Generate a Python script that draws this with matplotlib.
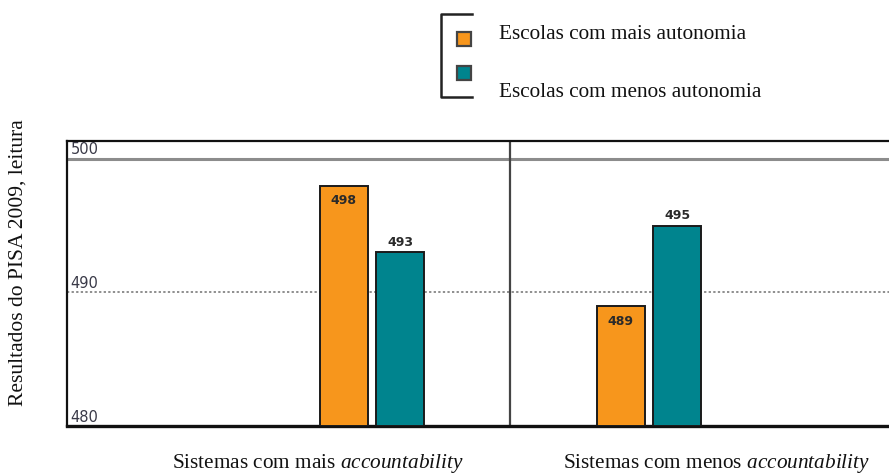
import matplotlib.pyplot as plt
from matplotlib.patches import Rectangle
from matplotlib.lines import Line2D

plt.rcParams['mathtext.fontset'] = 'custom'
plt.rcParams['mathtext.rm'] = 'Liberation Serif'
plt.rcParams['mathtext.it'] = 'Liberation Serif:italic'

# PISA 2009 reading scores by school autonomy and accountability
groups = ['Sistemas com mais ', 'Sistemas com menos ']
series_names = ['Escolas com mais autonomia', 'Escolas com menos autonomia']
mais_autonomia = [498, 489]
menos_autonomia = [493, 495]
yticks = [480, 490, 500]

orange = '#f7961c'
teal = '#00848e'
serif = 'Liberation Serif'

fig = plt.figure(figsize=(8.89, 4.74), dpi=100)
ax = fig.add_axes([0.0754, 0.1013, 0.9446, 0.6012])
ax.set_xlim(-1.101, 1.931)
ax.set_ylim(480, 501.33)

w = 0.173
off = 0.102
x = [0, 1]
ax.bar([i - off for i in x], [v - 480 for v in mais_autonomia], w, bottom=480,
       color=orange, edgecolor='#1a1a1a', linewidth=1.4, zorder=3)
ax.bar([i + off for i in x], [v - 480 for v in menos_autonomia], w, bottom=480,
       color=teal, edgecolor='#1a1a1a', linewidth=1.4, zorder=3)

# value labels: orange ones sit inside the bar, teal ones above it
for i in range(len(x)):
    ax.annotate(str(mais_autonomia[i]), (x[i] - off, mais_autonomia[i]), xytext=(0, -11),
                textcoords='offset points', ha='center', va='center', fontsize=9,
                fontweight='bold', color='#2a2a2a', zorder=4)
    ax.annotate(str(menos_autonomia[i]), (x[i] + off, menos_autonomia[i]), xytext=(0, 7),
                textcoords='offset points', ha='center', va='center', fontsize=9,
                fontweight='bold', color='#2a2a2a', zorder=4)

# grid lines
ax.axhline(500, color='#8c8c8c', linewidth=2.2, zorder=2)
ax.axhline(490, color='#707070', linewidth=1.1, linestyle=(0, (1.5, 1.5)), zorder=2)
ax.axvline(0.5, color='#444444', linewidth=1.6, zorder=2)

# y values written inside the frame
for t in yticks:
    ax.text(0.004, t + 0.1, str(t), transform=ax.get_yaxis_transform(),
            ha='left', va='bottom', fontsize=10.5, color='#3a3a48', clip_on=True, zorder=4)

ax.set_xticks([])
ax.set_yticks([])
for s in ['left', 'top', 'right']:
    ax.spines[s].set_linewidth(1.6)
    ax.spines[s].set_color('#111111')
ax.spines['bottom'].set_linewidth(2.4)
ax.spines['bottom'].set_color('#111111')

W, H = 889, 474
def fx(px):
    return px / W
def fy(py):
    return 1 - py / H

# category labels
for px, g in zip([172, 563], groups):
    fig.text(fx(px), fy(468), g + r'$\mathit{accountability}$', ha='left', va='baseline',
             fontsize=15.3, family=serif, color='#111111')

fig.text(0.02, 0.445, 'Resultados do PISA 2009, leitura', rotation=90, ha='center',
         va='center', fontsize=15.5, family=serif, color='#111111')

# legend box drawn by hand
fig.add_artist(Line2D([fx(472), fx(441), fx(441), fx(472)], [fy(14), fy(14), fy(97), fy(97)],
                      color='#222222', linewidth=1.8))
for cy, c in [(38.5, orange), (72.5, teal)]:
    fig.add_artist(Rectangle((fx(457), fy(cy + 7)), fx(14), 14 / H, facecolor=c,
                             edgecolor='#444444', linewidth=1.6))
fig.text(fx(499), fy(39), series_names[0], ha='left', va='baseline', fontsize=15.3,
         family=serif, color='#111111')
fig.text(fx(499), fy(97), series_names[1], ha='left', va='baseline', fontsize=15.3,
         family=serif, color='#111111')

fig.savefig('out.png', dpi=100)
